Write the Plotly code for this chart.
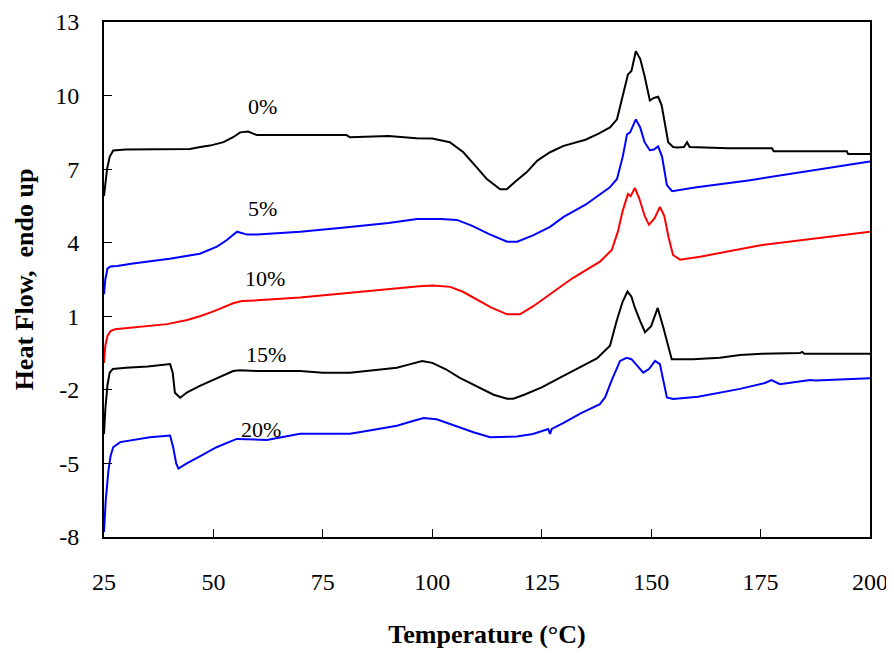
import plotly.graph_objects as go

# ---- data ----
x_0 = [25, 25.3, 25.7, 26.3, 27.1, 30, 40, 44.6, 47, 49.2, 52.3, 54.5, 56.1, 57.9, 59.9, 65, 80.4, 81.2, 90, 96.4,
       100, 104, 107.1, 110, 112.4, 115.5, 117, 119, 121.6, 124, 126.9, 130, 135, 138, 140.6, 142.2, 143.6, 144.7,
       145.5, 146.5, 147.5, 148.5, 149.7, 150.6, 151.6, 152.4, 153.2, 153.9, 155, 155.9, 157.5, 158.2, 158.8,
       161.2, 167.6, 177.6, 178, 194.7, 195, 200]
y_0 = [5.9, 6.4, 7.0, 7.5, 7.76, 7.8, 7.8, 7.82, 7.9, 7.96, 8.1, 8.3, 8.5, 8.53, 8.39, 8.39, 8.39, 8.3, 8.35, 8.26,
       8.25, 8.1, 7.69, 7.1, 6.61, 6.18, 6.18, 6.5, 6.88, 7.35, 7.69, 7.95, 8.2, 8.45, 8.7, 9.03, 10.0, 10.86,
       11.0, 11.81, 11.5, 10.8, 9.8, 9.9, 9.95, 9.6, 8.8, 8.1, 7.9, 7.88, 7.9, 8.1, 7.9,
       7.88, 7.85, 7.85, 7.73, 7.73, 7.62, 7.62]

x_5 = [25, 25.3, 25.8, 26.5, 28, 31.6, 40, 46.9, 50.8, 53, 55.4, 57.7, 60, 69.8, 80, 90, 96.5, 102, 105.6, 109,
       113, 117.1, 119.4, 123, 126.9, 130, 135, 138.3, 140.5, 142.2, 143.5, 144.5, 145.2, 146.5, 147.5, 148.5,
       149.7, 150.6, 151.6, 152.5, 153.6, 154.8, 160, 172.6, 185, 200]
y_5 = [1.9, 2.5, 2.95, 3.03, 3.05, 3.15, 3.35, 3.55, 3.84, 4.1, 4.45, 4.33, 4.33, 4.45, 4.62, 4.8, 4.97, 4.97, 4.93, 4.7,
       4.35, 4.04, 4.04, 4.3, 4.65, 5.05, 5.55, 5.95, 6.25, 6.6, 7.5, 8.42, 8.5, 9.03, 8.7, 8.1,
       7.77, 7.8, 7.93, 7.5, 6.35, 6.1, 6.25, 6.55, 6.9, 7.31]

x_10 = [25, 25.3, 25.8, 26.5, 27.5, 32, 39.4, 44, 46.9, 50, 54.5, 56.5, 60, 69.8, 80, 90, 97, 100.2, 104.1, 107,
        110, 113.5, 117.1, 120, 123, 127, 132, 138.3, 141, 142.4, 143.5, 144.7, 145.3, 146.3, 147.3, 148.5,
        149.5, 150.8, 152, 153, 154, 155, 156.6, 161.2, 175, 200]
y_10 = [-0.9, -0.2, 0.2, 0.4, 0.47, 0.55, 0.68, 0.85, 1.0, 1.2, 1.53, 1.62, 1.65, 1.77, 1.95, 2.1, 2.22, 2.26, 2.2, 2.0,
        1.7, 1.35, 1.08, 1.08, 1.4, 1.9, 2.55, 3.23, 3.7, 4.45, 5.3, 5.99, 5.9, 6.23, 5.8, 5.1,
        4.73, 5.0, 5.46, 5.1, 4.2, 3.5, 3.31, 3.43, 3.9, 4.45]

x_15 = [25, 25.3, 25.8, 26.3, 27, 30, 35, 40.1, 40.7, 41.2, 42.4, 44, 46.9, 50, 54.5, 56, 60, 69.8, 75, 81.2,
        86, 91.9, 95, 97.7, 100, 103, 106.3, 110, 114, 117.1, 118.5, 121, 125, 129.2, 133, 137.6, 140.6, 142.1,
        143.5, 144.6, 145.5, 146.3, 147.5, 148.6, 150, 151.5, 152.8, 154, 154.7, 159.6, 165.7, 170.3, 175.3,
        184, 184.5, 185, 200]
y_15 = [-3.8, -2.8, -1.8, -1.3, -1.15, -1.1, -1.05, -0.95, -1.3, -2.12, -2.32, -2.1, -1.84, -1.6, -1.23, -1.2, -1.23, -1.23, -1.3, -1.3,
        -1.2, -1.1, -0.95, -0.82, -0.9, -1.15, -1.51, -1.85, -2.2, -2.36, -2.36, -2.2, -1.9, -1.5, -1.15, -0.72, -0.2, 0.8,
        1.6, 2.01, 1.8, 1.34, 0.8, 0.35, 0.6, 1.34, 0.53, -0.3, -0.75, -0.75, -0.69, -0.58, -0.53,
        -0.5, -0.45, -0.53, -0.53]

x_20 = [25, 25.4, 26, 26.5, 27.1, 28.7, 35.5, 40.1, 40.8, 41.5, 42, 43.9, 47, 50.7, 55.3, 62.2, 69.8, 81.2, 86,
        91.9, 95, 98, 101, 105, 109.4, 113.2, 119.3, 123, 126.5, 126.9, 127.3, 130, 134, 138.3, 139.5, 141,
        142.9, 144.4, 145.5, 146.5, 148.2, 149.5, 150.9, 152, 153.6, 155, 160.7, 170.3, 176, 177.5, 179.4,
        183, 186.3, 187.5, 200]
y_20 = [-7.8, -6.5, -5.3, -4.7, -4.34, -4.13, -3.93, -3.86, -4.34, -5.0, -5.21, -5.0, -4.7, -4.34, -4.0, -4.04, -3.79, -3.79, -3.65,
        -3.46, -3.3, -3.15, -3.2, -3.45, -3.73, -3.93, -3.9, -3.8, -3.6, -3.8, -3.59, -3.35, -2.95, -2.58, -2.3, -1.6,
        -0.82, -0.69, -0.75, -0.95, -1.3, -1.15, -0.82, -0.95, -2.31, -2.37, -2.28, -1.96, -1.72, -1.6, -1.77,
        -1.68, -1.6, -1.62, -1.53]

series_names = ["0%", "5%", "10%", "15%", "20%"]
series_x = [x_0, x_5, x_10, x_15, x_20]
series_y = [y_0, y_5, y_10, y_15, y_20]
series_colors = ["#000000", "#0000FF", "#FF0000", "#000000", "#0000FF"]

label_x = [61.3, 61.3, 61.8, 62.0, 60.8]
label_y = [9.55, 5.4, 2.54, -0.55, -3.6]

x_ticks = [25, 50, 75, 100, 125, 150, 175, 200]
y_ticks = [-8, -5, -2, 1, 4, 7, 10, 13]

FONT = "Liberation Serif, Times New Roman, serif"

fig = go.Figure()
for name, xs, ys, c in zip(series_names, series_x, series_y, series_colors):
    fig.add_trace(go.Scatter(x=xs, y=ys, mode="lines", name=name,
                             line=dict(color=c, width=2), showlegend=False))

for name, lx, ly in zip(series_names, label_x, label_y):
    fig.add_annotation(x=lx, y=ly, text=name, showarrow=False,
                       font=dict(family=FONT, size=22, color="#000000"))

# the page body adds an 8px offset, so the figure is sized to fit the window
fig.update_layout(
    width=886, height=645,
    margin=dict(l=96, r=24, t=14, b=116),
    paper_bgcolor="white", plot_bgcolor="white",
    font=dict(family=FONT, color="#000000"),
)
fig.update_xaxes(
    range=[25, 200], tickvals=x_ticks, ticktext=[str(v) for v in x_ticks],
    ticks="inside", ticklen=8, tickwidth=1, tickcolor="#000000",
    showline=True, mirror=True, linecolor="#000000", linewidth=2,
    showgrid=False, zeroline=False, automargin=False,
    tickfont=dict(family=FONT, size=24), ticklabeloverflow="allow",
    ticklabelstandoff=22,
    title=dict(text="<b>Temperature (°C)</b>", font=dict(family=FONT, size=26), standoff=31),
)
fig.update_yaxes(
    range=[-8, 13], tickvals=y_ticks, ticktext=[str(v) for v in y_ticks],
    ticks="inside", ticklen=8, tickwidth=1, tickcolor="#000000",
    showline=True, mirror=True, linecolor="#000000", linewidth=2,
    showgrid=False, zeroline=False, automargin=False,
    tickfont=dict(family=FONT, size=24), ticklabeloverflow="allow",
    ticklabelstandoff=18,
    title=dict(text="<b>Heat Flow,  endo up</b>", font=dict(family=FONT, size=26), standoff=14),
)

fig.write_html("out.html")
